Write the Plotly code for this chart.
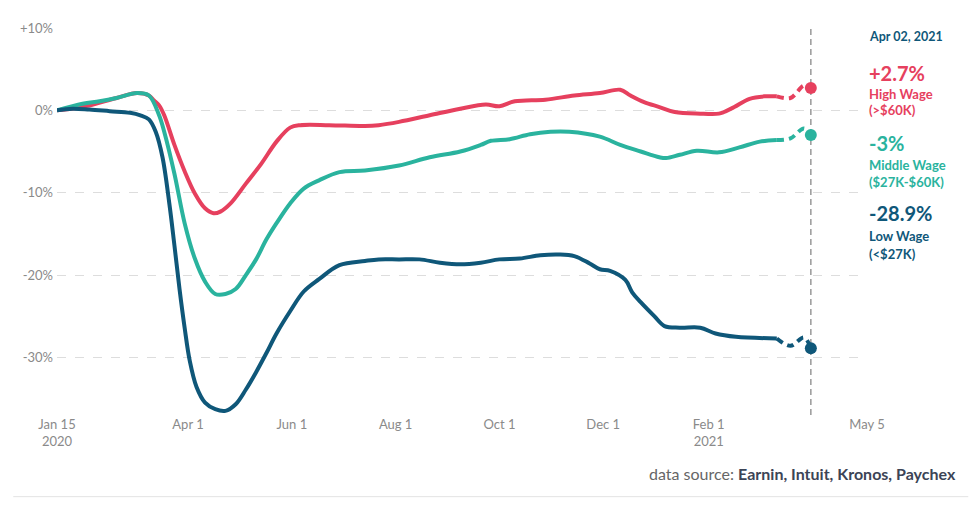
import plotly.graph_objects as go

# ---------------- data ----------------
high_dates = ["2020-01-15","2020-01-30","2020-02-19","2020-03-02","2020-03-09","2020-03-12","2020-03-15",
              "2020-03-18","2020-03-24","2020-03-30","2020-04-05","2020-04-11","2020-04-16","2020-04-20",
              "2020-04-26","2020-05-05","2020-05-14","2020-05-23","2020-05-31","2020-06-06","2020-06-23",
              "2020-07-14","2020-07-22","2020-08-03","2020-08-21","2020-09-08","2020-09-23","2020-10-01",
              "2020-10-10","2020-10-28","2020-11-14","2020-11-29","2020-12-11","2020-12-17","2020-12-25",
              "2021-01-03","2021-01-12","2021-01-27","2021-02-07","2021-02-10","2021-02-16","2021-02-25",
              "2021-03-06","2021-03-13"]
high_vals = [0, 0.4, 1.5, 2.1, 1.8, 1.2, 0.6,
             -0.6, -4.2, -7.4, -10.1, -11.9, -12.5, -12.3,
             -11.3, -8.9, -6.5, -3.8, -2.1, -1.8, -1.8,
             -1.9, -1.8, -1.4, -0.6, 0.2, 0.7, 0.5,
             1.1, 1.3, 1.8, 2.1, 2.5, 1.8, 1.0,
             0.4, -0.2, -0.4, -0.4, -0.2, 0.4, 1.4,
             1.7, 1.7]

mid_dates = ["2020-01-15","2020-01-30","2020-02-09","2020-02-19","2020-03-02","2020-03-09","2020-03-15",
             "2020-03-18","2020-03-24","2020-03-30","2020-04-05","2020-04-11","2020-04-17","2020-04-23",
             "2020-04-29","2020-05-05","2020-05-11","2020-05-17","2020-05-23","2020-05-31","2020-06-08",
             "2020-06-17","2020-06-29","2020-07-14","2020-08-03","2020-08-21","2020-09-08","2020-09-20",
             "2020-09-26","2020-10-07","2020-10-19","2020-10-31","2020-11-11","2020-11-29","2020-12-11",
             "2020-12-23","2021-01-03","2021-01-07","2021-01-15","2021-01-25","2021-02-07","2021-02-19",
             "2021-03-03","2021-03-13"]
mid_vals = [0, 0.8, 1.1, 1.5, 2.1, 1.8, -0.6,
            -2.6, -7.7, -13.7, -18.0, -20.8, -22.3, -22.3,
            -21.7, -20.0, -18.1, -15.7, -13.7, -11.3, -9.5,
            -8.5, -7.5, -7.3, -6.7, -5.7, -5.0, -4.2,
            -3.7, -3.5, -2.9, -2.6, -2.6, -3.2, -4.2,
            -5.0, -5.7, -5.8, -5.4, -4.9, -5.1, -4.5,
            -3.8, -3.6]

low_dates = ["2020-01-15","2020-01-24","2020-02-03","2020-02-15","2020-02-27","2020-03-04","2020-03-09",
             "2020-03-13","2020-03-17","2020-03-21","2020-03-24","2020-03-27","2020-03-30","2020-04-02",
             "2020-04-06","2020-04-11","2020-04-17","2020-04-23","2020-04-29","2020-05-05","2020-05-11",
             "2020-05-17","2020-05-23","2020-05-31","2020-06-08","2020-06-17","2020-06-29","2020-07-14",
             "2020-07-22","2020-08-03","2020-08-15","2020-08-27","2020-09-08","2020-09-20","2020-10-01",
             "2020-10-13","2020-10-25","2020-11-05","2020-11-14","2020-11-23","2020-11-29","2020-12-05",
             "2020-12-14","2020-12-18","2020-12-23","2020-12-31","2021-01-06","2021-01-15","2021-01-27",
             "2021-02-05","2021-02-17","2021-03-13"]
low_vals = [0, 0.2, 0.1, -0.1, -0.3, -0.6, -1.1,
            -2.6, -5.7, -11.3, -16.4, -21.7, -26.4, -30.4,
            -33.6, -35.5, -36.3, -36.5, -35.7, -33.9, -31.8,
            -29.5, -27.1, -24.4, -22.0, -20.5, -18.8, -18.3,
            -18.1, -18.1, -18.1, -18.5, -18.7, -18.5, -18.1,
            -18.0, -17.6, -17.5, -17.7, -18.6, -19.3, -19.5,
            -20.6, -22.1, -23.3, -25.0, -26.2, -26.4, -26.4,
            -27.1, -27.5, -27.7]

# projected (dashed) segments
proj_dates = ["2021-03-13", "2021-03-21", "2021-03-29", "2021-04-02"]
high_proj = [1.7, 1.5, 3.0, 2.7]
mid_proj = [-3.6, -3.4, -2.2, -3.0]
low_proj = [-27.7, -28.6, -27.6, -28.9]

latest_date = "2021-04-02"
latest_label = "Apr 02, 2021"
series_names = ["High Wage", "Middle Wage", "Low Wage"]
series_sub = ["(>$60K)", "($27K-$60K)", "(<$27K)"]
latest_vals = [2.7, -3, -28.9]
latest_text = ["+2.7%", "-3%", "-28.9%"]

x_tickvals = ["2020-01-15", "2020-04-01", "2020-06-01", "2020-08-01", "2020-10-01",
              "2020-12-01", "2021-02-01", "2021-05-05"]
x_ticktext = ["Jan 15<br>2020", "Apr 1", "Jun 1", "Aug 1", "Oct 1", "Dec 1", "Feb 1<br>2021", "May 5"]
y_tickvals = [10, 0, -10, -20, -30]
y_ticktext = ["+10%", "0%", "-10%", "-20%", "-30%"]

# ---------------- style ----------------
RED = "#e6405e"
TEAL = "#2ab39e"
BLUE = "#0f5779"
colors = [RED, TEAL, BLUE]
FONT = "Lato"

fig = go.Figure()

solid = [(high_dates, high_vals), (mid_dates, mid_vals), (low_dates, low_vals)]
proj = [high_proj, mid_proj, low_proj]

for (d, v), c in zip(solid, colors):
    fig.add_trace(go.Scatter(x=d, y=v, mode="lines", line=dict(color=c, width=4, shape="spline"),
                             hoverinfo="skip", showlegend=False))
for p, c in zip(proj, colors):
    fig.add_trace(go.Scatter(x=proj_dates, y=p, mode="lines",
                             line=dict(color=c, width=4, dash="7px,5px", shape="spline"),
                             hoverinfo="skip", showlegend=False))
for val, c in zip(latest_vals, colors):
    fig.add_trace(go.Scatter(x=[latest_date], y=[val], mode="markers",
                             marker=dict(color=c, size=12), hoverinfo="skip", showlegend=False))

# vertical dashed line at latest date
fig.add_shape(type="line", xref="x", yref="paper", x0=latest_date, x1=latest_date, y0=0, y1=1,
              line=dict(color="#999999", width=1.5, dash="6px,4px"), layer="below")

# bottom rule
fig.add_shape(type="line", xref="paper", yref="paper", x0=-0.054, x1=1.125, y0=-0.211, y1=-0.211,
              line=dict(color="#e3e3e3", width=1))

# right-hand annotations
ann = []
ann.append(dict(text="<b>" + latest_label + "</b>", x=1.0, y=0.977, color=BLUE, size=12.5))
ys = [(0.884, 0.830, 0.787), (0.703, 0.647, 0.602), (0.521, 0.462, 0.416)]
for i in range(3):
    y1, y2, y3 = ys[i]
    ann.append(dict(text="<b>" + latest_text[i] + "</b>", x=1.0, y=y1, color=colors[i], size=20))
    ann.append(dict(text="<b>" + series_names[i] + "</b>", x=1.0, y=y2, color=colors[i], size=13))
    ann.append(dict(text="<b>" + series_sub[i] + "</b>", x=1.0, y=y3, color=colors[i], size=13))
for a in ann:
    fig.add_annotation(text=a["text"], x=a["x"], y=a["y"], xref="paper", yref="paper",
                       xanchor="left", yanchor="middle", showarrow=False,
                       font=dict(family=FONT, size=a["size"], color=a["color"]))

fig.add_annotation(text="<span style='color:#666666'>data source: </span><b>Earnin, Intuit, Kronos, Paychex</b>",
                   x=1.1125, y=-0.152, xref="paper", yref="paper", xanchor="right", yanchor="middle",
                   showarrow=False, font=dict(family=FONT, size=16, color="#3c4456"))

# page body has an 8px margin, so the figure is offset by 8px
fig.update_layout(
    width=971, height=509,
    margin=dict(l=49, r=112, t=13, b=102),
    paper_bgcolor="white", plot_bgcolor="white",
    font=dict(family=FONT, color="#8a8a8a", size=13),
    xaxis=dict(type="date", range=["2020-01-15", "2021-05-05"], tickvals=x_tickvals, ticktext=x_ticktext,
               showgrid=False, zeroline=False, showline=False, ticks="", tickfont=dict(size=13, color="#8a8a8a")),
    yaxis=dict(range=[-37, 10], tickvals=y_tickvals, ticktext=y_ticktext, showgrid=True,
               gridcolor="#dddddd", griddash="dash", gridwidth=1, zeroline=False, showline=False,
               ticks="", ticklabelstandoff=3, tickfont=dict(size=13, color="#8a8a8a")),
)

fig.write_html("out.html")
